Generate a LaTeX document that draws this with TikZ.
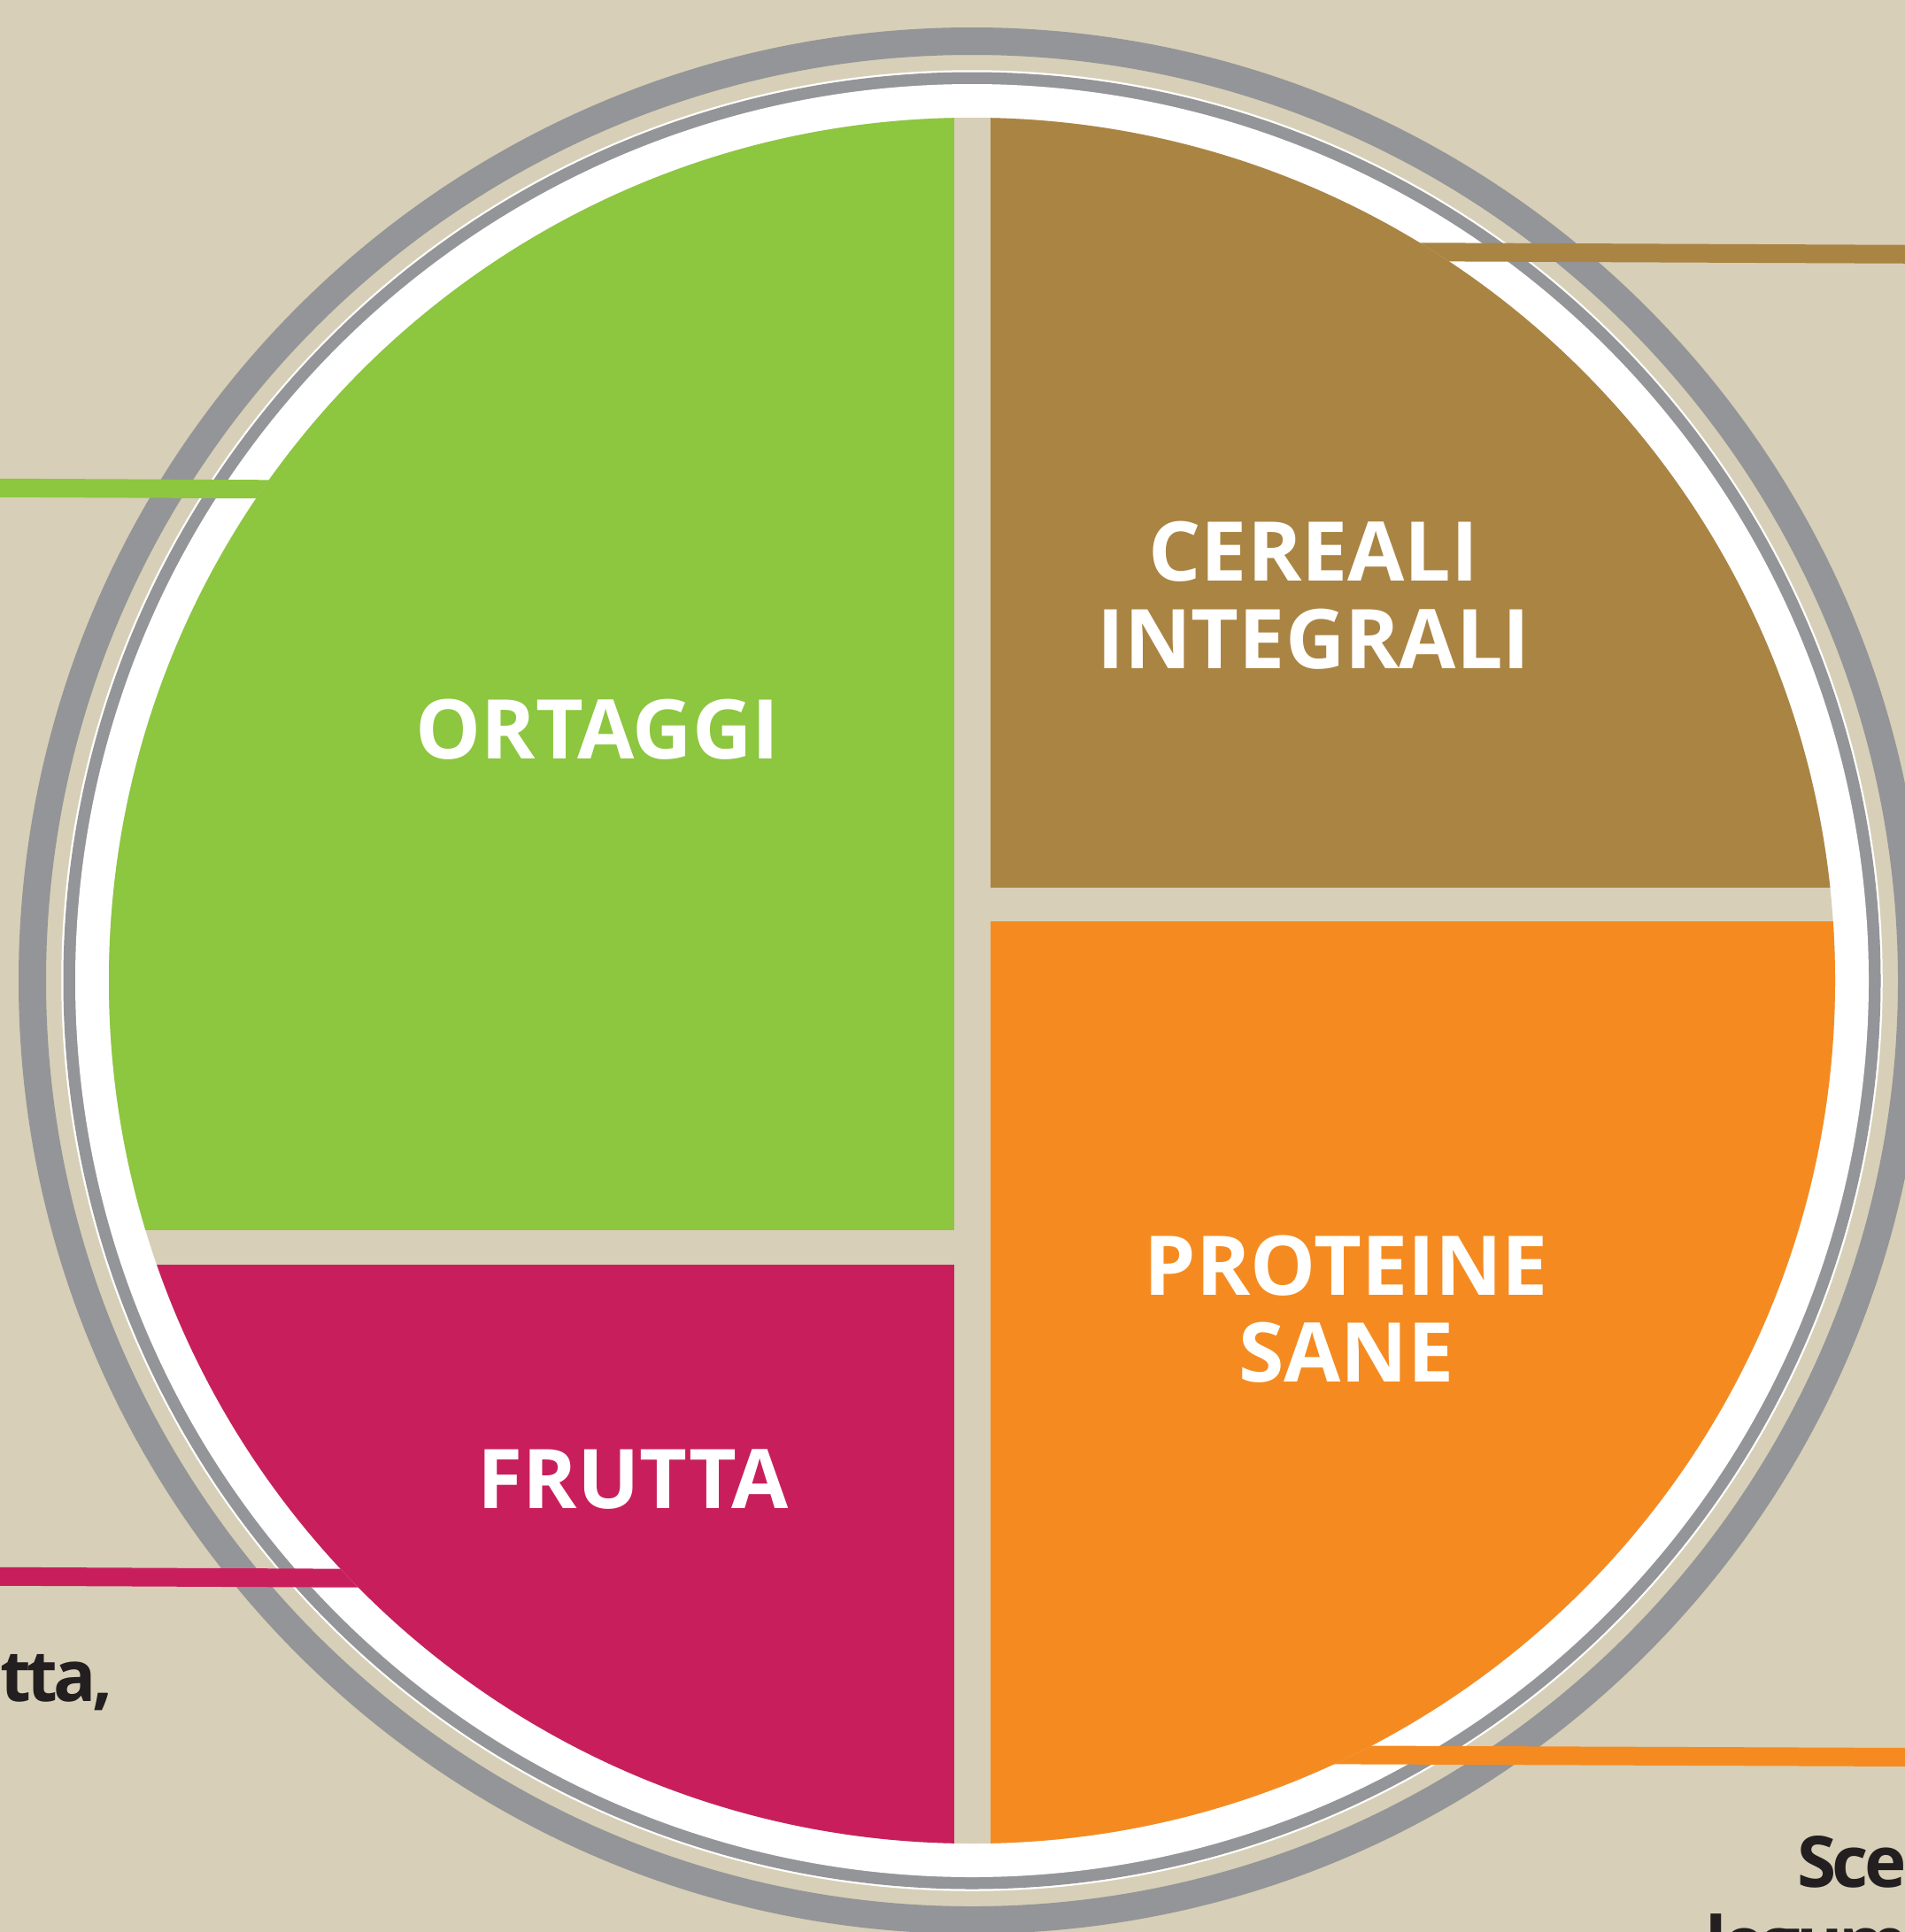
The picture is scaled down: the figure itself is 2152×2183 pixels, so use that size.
\documentclass[tikz,border=0pt]{standalone}
\usepackage{fontspec}
\setmainfont{Open Sans}
\definecolor{bgbeige}{HTML}{D7CFB7}
\definecolor{rimgray}{HTML}{939598}
\definecolor{veggreen}{HTML}{8DC63F}
\definecolor{grainbrown}{HTML}{AA8443}
\definecolor{protorange}{HTML}{F58B20}
\definecolor{fruitred}{HTML}{C81F5C}
\definecolor{inkdark}{HTML}{231F20}
\tikzset{
  platelabel/.style={text=white, inner sep=0pt, anchor=base, font=\fontsize{26.5}{28}\selectfont\bfseries},
  sidetext/.style={text=inkdark, inner sep=0pt, anchor=base west, font=\fontsize{22.8}{26}\selectfont\bfseries\addfontfeature{LetterSpace=-6}},
  leader/.style={line width=2.1mm, line cap=butt}
}
\begin{document}
\begin{tikzpicture}[x=0.1mm,y=-0.1mm]
\useasboundingbox (0,0) rectangle (2152,2183);
\clip (0,0) rectangle (2152,2183);
\fill[bgbeige] (0,0) rectangle (2152,2183);
\coordinate (C) at (1098,1108);
% rims
\draw[rimgray, line width=3.1mm] (C) circle [radius=1061.5];
\draw[white, line width=0.25mm] (C) circle [radius=1027.5];
\fill[rimgray] (C) circle [radius=1026.5];
\fill[white] (C) circle [radius=1013];
% leader lines
\coordinate (gA) at (-10,551.2);  \coordinate (gB) at (420,553.4);
\coordinate (rA) at (-10,1781.2); \coordinate (rB) at (460,1783.5);
\coordinate (bA) at (1480,284.2); \coordinate (bB) at (2162,287.3);
\coordinate (oA) at (1420,1982.5);  \coordinate (oB) at (2162,1985.5);
\draw[leader, veggreen] (gA) -- (gB);
\draw[leader, fruitred] (rA) -- (rB);
\draw[leader, grainbrown] (bA) -- (bB);
\draw[leader, protorange] (oA) -- (oB);
% plate
\fill[bgbeige] (C) circle [radius=975];
\begin{scope}
  \clip (C) circle [radius=975];
  \fill[veggreen] (0,0) rectangle (1078,1390);
  \fill[fruitred] (0,1429) rectangle (1078,2183);
  \fill[grainbrown] (1119,0) rectangle (2152,1003);
  \fill[protorange] (1119,1041) rectangle (2152,2183);
\end{scope}
% labels
\node[platelabel] (ort) at (675,857) {ORTAGGI};
\node[platelabel] (cer1) at (1484,656) {CEREALI};
\node[platelabel] (cer2) at (1484,755) {INTEGRALI};
\node[platelabel] (pro1) at (1521,1463) {PROTEINE};
\node[platelabel] (pro2) at (1521,1561) {SANE};
\node[platelabel] (fru) at (715,1704) {FRUTTA};
% side texts
\node[sidetext] (tta) at (0,1922) {tta,};
\node[sidetext, anchor=base east] (sce) at (2154,2132) {Sce};
\node[sidetext] (leg) at (1926,2223) {legumi};
\end{tikzpicture}
\end{document}
